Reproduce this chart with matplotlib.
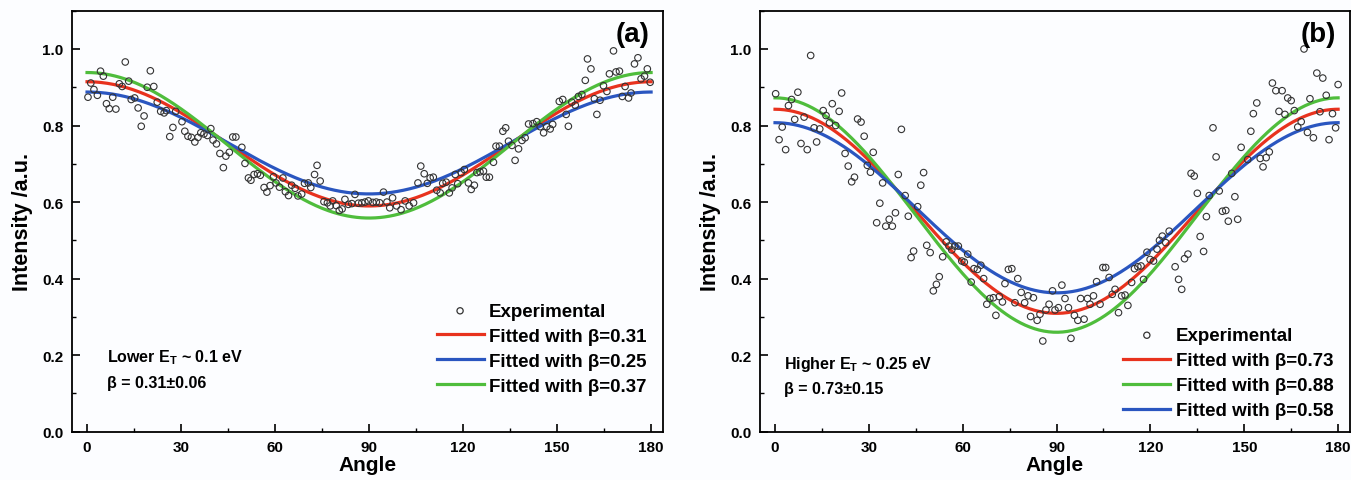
import numpy as np
import matplotlib
matplotlib.use("Agg")
import matplotlib.pyplot as plt
from matplotlib.ticker import MultipleLocator

plt.rcParams['font.family'] = ['Liberation Sans', 'DejaVu Sans']
plt.rcParams['font.weight'] = 'bold'
plt.rcParams['mathtext.fontset'] = 'custom'
plt.rcParams['mathtext.rm'] = 'Liberation Sans:bold'
plt.rcParams['mathtext.bf'] = 'Liberation Sans:bold'

# ---------------- Panel (a) experimental data ----------------
angle_a = [0.3, 1.2, 2.2, 3.3, 4.3, 5.2, 6.2, 7.1, 8.2, 9.2, 10.3, 11.2, 12.2, 13.3, 14.1,
           15.2, 16.3, 17.3, 18.2, 19.2, 20.2, 21.3, 22.4, 23.5, 24.6, 25.3, 26.4, 27.4,
           28.3, 30.3, 31.2, 32.2, 33.3, 34.4, 35.4, 36.3, 37.3, 38.4, 39.5, 40.2, 41.3,
           42.4, 43.5, 44.3, 45.4, 46.5, 47.5, 49.4, 50.4, 51.5, 52.3, 53.3, 54.4, 55.3,
           56.5, 57.4, 58.4, 59.5, 60.3, 61.4, 62.5, 63.3, 64.3, 65.3, 66.4, 67.3, 68.5,
           69.4, 70.6, 71.4, 72.6, 73.4, 74.4, 75.6, 76.7, 77.6, 78.4, 79.5, 80.5, 81.4,
           82.3, 83.4, 84.5, 85.5, 86.6, 87.7, 88.7, 89.8, 91.2, 92.3, 93.4, 94.6, 95.7,
           96.6, 97.5, 98.8, 100.2, 101.5, 102.8, 104.2, 105.6, 106.5, 107.6, 108.6, 109.5,
           110.5, 111.6, 112.7, 113.5, 114.6, 115.6, 116.5, 117.5, 118.3, 119.4, 120.4,
           121.7, 122.6, 123.6, 124.4, 125.4, 126.5, 127.4, 128.4, 129.7, 130.5, 131.6,
           132.7, 133.6, 134.5, 135.6, 136.6, 137.7, 138.8, 139.8, 140.9, 142.3, 143.5,
           144.6, 145.7, 146.7, 147.8, 148.6, 150.7, 151.8, 152.9, 153.6, 154.7, 155.8,
           156.8, 157.9, 159.0, 159.7, 160.8, 161.9, 162.7, 163.7, 164.8, 165.9, 166.7,
           168.0, 168.8, 169.9, 170.8, 171.7, 172.8, 173.6, 174.7, 175.8, 176.8, 177.9,
           178.8, 179.7]
value_a = [0.874, 0.911, 0.894, 0.879, 0.942, 0.929, 0.857, 0.844, 0.874, 0.843, 0.909, 0.902,
           0.966, 0.916, 0.868, 0.872, 0.846, 0.798, 0.825, 0.900, 0.943, 0.902, 0.861, 0.837,
           0.833, 0.839, 0.771, 0.795, 0.837, 0.810, 0.785, 0.772, 0.769, 0.757, 0.769, 0.781,
           0.778, 0.774, 0.792, 0.762, 0.752, 0.727, 0.690, 0.720, 0.730, 0.770, 0.770, 0.743,
           0.701, 0.663, 0.657, 0.672, 0.674, 0.670, 0.638, 0.626, 0.643, 0.666, 0.650, 0.639,
           0.663, 0.627, 0.617, 0.644, 0.636, 0.616, 0.621, 0.649, 0.650, 0.638, 0.672, 0.696,
           0.655, 0.601, 0.598, 0.590, 0.603, 0.591, 0.578, 0.582, 0.607, 0.594, 0.596, 0.620,
           0.597, 0.598, 0.600, 0.603, 0.599, 0.600, 0.598, 0.626, 0.600, 0.585, 0.611, 0.590,
           0.580, 0.603, 0.590, 0.598, 0.650, 0.694, 0.674, 0.649, 0.663, 0.665, 0.631, 0.624,
           0.649, 0.652, 0.624, 0.637, 0.672, 0.648, 0.677, 0.685, 0.650, 0.633, 0.644, 0.677,
           0.679, 0.681, 0.665, 0.665, 0.704, 0.746, 0.746, 0.785, 0.794, 0.759, 0.748, 0.709,
           0.739, 0.761, 0.768, 0.804, 0.805, 0.810, 0.797, 0.781, 0.797, 0.791, 0.803, 0.863,
           0.868, 0.829, 0.798, 0.861, 0.853, 0.876, 0.881, 0.918, 0.974, 0.948, 0.870, 0.829,
           0.866, 0.904, 0.889, 0.935, 0.995, 0.940, 0.942, 0.876, 0.902, 0.872, 0.885, 0.961,
           0.977, 0.922, 0.929, 0.948, 0.913]

# ---------------- Panel (b) experimental data ----------------
angle_b = [0.2, 1.3, 2.3, 3.4, 4.3, 5.3, 6.3, 7.3, 8.3, 9.3, 10.3, 11.4, 12.5, 13.3, 14.3,
           15.4, 16.3, 17.4, 18.3, 19.4, 20.5, 21.3, 22.4, 23.4, 24.5, 25.4, 26.4, 27.5,
           28.5, 29.5, 30.5, 31.4, 32.5, 33.5, 34.4, 35.4, 36.5, 37.5, 38.5, 39.4, 40.4,
           41.6, 42.6, 43.5, 44.3, 45.6, 46.6, 47.5, 48.5, 49.6, 50.6, 51.6, 52.5, 53.6,
           54.7, 55.6, 56.5, 57.5, 58.6, 59.7, 60.5, 61.6, 62.7, 63.6, 64.7, 65.8, 66.7,
           67.7, 68.7, 69.8, 70.6, 71.7, 72.7, 73.5, 74.6, 75.7, 76.7, 77.6, 78.7, 79.8,
           80.9, 81.7, 82.6, 83.8, 84.7, 85.6, 86.6, 87.6, 88.7, 89.5, 90.6, 91.7, 92.7,
           93.8, 94.6, 95.7, 96.8, 97.7, 98.8, 99.9, 100.7, 101.8, 102.8, 103.9, 104.8,
           105.7, 106.8, 107.8, 108.7, 109.8, 110.8, 111.9, 112.8, 114.0, 114.9, 116.0,
           117.0, 117.8, 118.9, 119.9, 121.0, 122.1, 122.9, 123.8, 124.9, 126.0, 127.9,
           129.0, 130.0, 130.9, 132.0, 133.0, 134.0, 135.0, 135.9, 137.0, 137.9, 138.8,
           140.0, 141.0, 142.0, 143.0, 144.1, 144.9, 146.0, 147.0, 147.9, 149.0, 151.1,
           152.1, 152.9, 154.0, 155.1, 156.0, 157.0, 158.0, 159.0, 160.1, 161.1, 162.1,
           163.0, 163.9, 165.0, 166.0, 167.1, 168.2, 169.1, 170.2, 171.0, 172.1, 173.2,
           174.2, 175.1, 176.2, 177.1, 178.2, 179.2, 180.0]
value_b = [0.883, 0.763, 0.796, 0.737, 0.852, 0.868, 0.816, 0.887, 0.753, 0.822, 0.737, 0.983,
           0.794, 0.757, 0.791, 0.839, 0.826, 0.807, 0.857, 0.800, 0.837, 0.885, 0.727, 0.694,
           0.653, 0.665, 0.817, 0.809, 0.772, 0.696, 0.678, 0.730, 0.546, 0.597, 0.650, 0.537,
           0.555, 0.537, 0.572, 0.672, 0.790, 0.617, 0.563, 0.455, 0.472, 0.588, 0.644, 0.677,
           0.487, 0.468, 0.368, 0.385, 0.405, 0.457, 0.496, 0.485, 0.475, 0.485, 0.485, 0.446,
           0.443, 0.464, 0.391, 0.426, 0.424, 0.435, 0.400, 0.333, 0.348, 0.350, 0.304, 0.353,
           0.339, 0.387, 0.424, 0.426, 0.337, 0.400, 0.364, 0.337, 0.355, 0.301, 0.350, 0.291,
           0.307, 0.237, 0.318, 0.333, 0.368, 0.318, 0.324, 0.383, 0.348, 0.324, 0.244, 0.304,
           0.291, 0.348, 0.294, 0.348, 0.333, 0.355, 0.392, 0.333, 0.429, 0.429, 0.403, 0.359,
           0.372, 0.311, 0.355, 0.357, 0.330, 0.390, 0.426, 0.431, 0.433, 0.398, 0.469, 0.450,
           0.446, 0.477, 0.500, 0.511, 0.494, 0.524, 0.431, 0.398, 0.372, 0.452, 0.464, 0.675,
           0.668, 0.623, 0.510, 0.471, 0.562, 0.617, 0.794, 0.718, 0.629, 0.576, 0.578, 0.550,
           0.675, 0.614, 0.555, 0.743, 0.711, 0.785, 0.831, 0.859, 0.714, 0.692, 0.716, 0.731,
           0.911, 0.891, 0.837, 0.891, 0.829, 0.872, 0.865, 0.839, 0.796, 0.810, 1.000, 0.782,
           0.870, 0.768, 0.937, 0.836, 0.924, 0.879, 0.763, 0.831, 0.794, 0.907]

# ---------------- Fit parameters: I = N (1 + beta P2(cos theta)) ----------------
beta_a = [0.31, 0.25, 0.37]
norm_a = [0.698, 0.710, 0.685]
color_a = ['#e8321e', '#2a56c0', '#4fbd3c']

beta_b = [0.73, 0.88, 0.58]
norm_b = [0.487, 0.464, 0.511]
color_b = ['#e8321e', '#4fbd3c', '#2a56c0']

xticks = [0, 30, 60, 90, 120, 150, 180]
yticks = [0.0, 0.2, 0.4, 0.6, 0.8, 1.0]

BG = '#fcfdff'
fig = plt.figure(figsize=(13.51, 4.81), dpi=100, facecolor=BG)
ax_a = fig.add_axes([72/1351, 1-432.7/481, 591/1351, 421/481])
ax_b = fig.add_axes([760/1351, 1-432.7/481, 590/1351, 421/481])

theta = np.linspace(0, 180, 361)


def p2(t):
    c = np.cos(np.radians(t))
    return 0.5 * (3 * c**2 - 1)


def draw(ax, ang, val, betas, norms, colors, tag, line1, line2, txt_pos, leg_anchor):
    ax.set_facecolor(BG)
    ax.scatter(ang, val, s=22, facecolors='none', edgecolors='#333333', linewidths=0.8,
               zorder=3, label='Experimental')
    for b, n, c in zip(betas, norms, colors):
        ax.plot(theta, n * (1 + b * p2(theta)), color=c, lw=2.3, zorder=2,
                label=f'Fitted with β={b:.2f}')
    ax.set_xlim(-4.8, 183.8)
    ax.set_ylim(0, 1.1)
    ax.set_xticks(xticks)
    ax.set_yticks(yticks)
    ax.set_yticklabels([f'{v:.1f}' for v in yticks])
    ax.xaxis.set_minor_locator(MultipleLocator(15))
    ax.yaxis.set_minor_locator(MultipleLocator(0.1))
    ax.tick_params(which='major', direction='in', length=6, width=1.2, labelsize=11, pad=6)
    ax.tick_params(which='minor', direction='in', length=3, width=1.0)
    for lab in ax.get_xticklabels() + ax.get_yticklabels():
        lab.set_fontweight('bold')
    for sp in ax.spines.values():
        sp.set_linewidth(1.3)
    ax.set_xlabel('Angle', fontsize=15, fontweight='bold', labelpad=1)
    ax.set_ylabel('Intensity /a.u.', fontsize=15.5, fontweight='bold', labelpad=7)
    ax.text(0.977, 0.975, tag, transform=ax.transAxes, ha='right', va='top',
            fontsize=20, fontweight='bold')
    ax.text(txt_pos[0], txt_pos[1], line1, transform=ax.transAxes, ha='left', va='center',
            fontsize=11.5, fontweight='bold')
    ax.text(txt_pos[0], txt_pos[2], line2, transform=ax.transAxes, ha='left', va='center',
            fontsize=11.5, fontweight='bold')
    leg = ax.legend(loc='lower right', bbox_to_anchor=leg_anchor, frameon=False,
                    prop={'size': 13.5, 'weight': 'bold'}, handlelength=2.5,
                    handletextpad=0.3, labelspacing=0.42, borderaxespad=0)
    leg.legend_handles[0].set_sizes([20])
    leg.legend_handles[0].set_linewidth(0.9)
    for h in leg.legend_handles[1:]:
        h.set_linewidth(2.3)


draw(ax_a, angle_a, value_a, beta_a, norm_a, color_a, '(a)',
     r'Lower E$_\mathregular{T}$ ~ 0.1 eV', 'β = 0.31±0.06', (0.06, 0.178, 0.118),
     (0.985, 0.07))
draw(ax_b, angle_b, value_b, beta_b, norm_b, color_b, '(b)',
     r'Higher E$_\mathregular{T}$ ~ 0.25 eV', 'β = 0.73±0.15', (0.04, 0.163, 0.103),
     (0.985, 0.012))

fig.savefig('out.png', dpi=100, facecolor=BG)
